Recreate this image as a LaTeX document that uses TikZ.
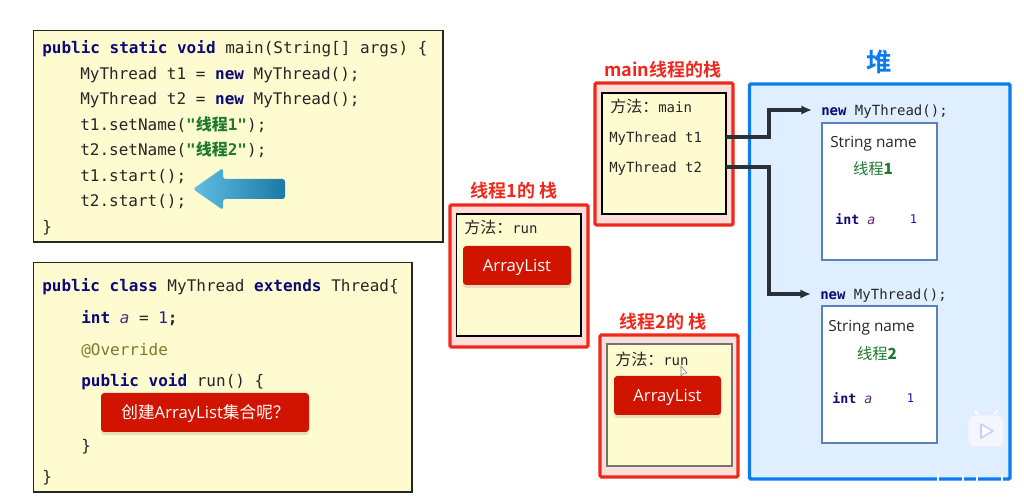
\documentclass[tikz,border=0pt]{standalone}
\usepackage{fontspec}
\setmainfont{Open Sans}
\setmonofont{DejaVu Sans Mono}
\newfontfamily\cjk{Noto Sans CJK SC}
\newfontfamily\cjkb{Noto Sans CJK SC Bold}
\definecolor{paper}{HTML}{FFFBD0}
\definecolor{kwcol}{HTML}{0A0A78}
\definecolor{strcol}{HTML}{1E7A2E}
\definecolor{varcol}{HTML}{5A2A78}
\definecolor{numcol}{HTML}{2A10B0}
\definecolor{annocol}{HTML}{7A7A28}
\definecolor{redline}{HTML}{F0281C}
\definecolor{redfill}{HTML}{FDDFDA}
\definecolor{btn}{HTML}{D01400}
\definecolor{btnshadow}{HTML}{E4DFB8}
\definecolor{bluehead}{HTML}{0A7CF0}
\definecolor{heapfill}{HTML}{E0EFFF}
\definecolor{objline}{HTML}{5B80BC}
\definecolor{conn}{HTML}{2A3038}
\definecolor{arrowL}{HTML}{62BEE2}
\definecolor{arrowR}{HTML}{1A78A6}
\newcommand{\kw}[1]{\textcolor{kwcol}{\bfseries #1}}
\newcommand{\cs}[1]{\textcolor{strcol}{\bfseries "{\cjk 线程}#1"}}
\newcommand{\fa}{{\cjk\fontsize{12}{14}\selectfont 方法：}}
\newcommand{\bx}[6]{\node[#2,anchor=north west,inner sep=0pt,outer sep=0pt,minimum width={(#5-#3)*0.75pt},minimum height={(#6-#4)*0.75pt}] (#1) at (#3,#4) {};}
\tikzset{
  x=0.75pt,y=-0.75pt,
  codebox/.style={draw=black!85,line width=0.9pt,fill=paper},
  stackouter/.style={draw=redline,line width=2.4pt,fill=redfill,rounded corners=1pt},
  stackinner/.style={draw=black,line width=0.9pt,fill=paper},
  heapbox/.style={draw=bluehead,line width=2.6pt,fill=heapfill,rounded corners=1pt},
  objbox/.style={draw=objline,line width=1.4pt,fill=white},
  codetext/.style={anchor=base west,inner sep=0pt,font=\ttfamily\fontsize{12}{14}\selectfont,text=black!85},
  smallcode/.style={anchor=base west,inner sep=0pt,font=\ttfamily\fontsize{10.5}{12}\selectfont,text=black!85},
  sanstext/.style={anchor=base west,inner sep=0pt,font=\fontsize{11.5}{14}\selectfont,text=black!85},
  greentext/.style={inner sep=0pt,text=strcol,font=\cjk\fontsize{11.5}{14}\selectfont},
  stacktitle/.style={inner sep=0pt,text=redline,font=\cjkb\fontsize{13.5}{16}\selectfont},
  btnbox/.style={fill=btn,rounded corners=2.5pt,text=white},
  btnshade/.style={fill=btnshadow,rounded corners=2.5pt},
  btntext/.style={inner sep=0pt,text=white,font=\fontsize{12.5}{14}\selectfont},
  link/.style={draw=conn,line width=2.3pt,-{Latex[length=8pt,width=7pt]}},
}
\usetikzlibrary{arrows.meta}
\begin{document}
\begin{tikzpicture}
\useasboundingbox (0,0) rectangle (1024,498);
\fill[white] (0,0) rectangle (1024,498);

% code box 1
\bx{codeA}{codebox}{33.5}{30.5}{443}{242}
\node[codetext] (a1) at (42,54) {\kw{public static void} main(String[] args) \{};
\node[codetext] (a2) at (80,80) {MyThread t1 = \kw{new} MyThread();};
\node[codetext] (a3) at (80,105) {MyThread t2 = \kw{new} MyThread();};
\node[codetext] (a4) at (80,131) {t1.setName(\cs{1});};
\node[codetext] (a5) at (80,156) {t2.setName(\cs{2});};
\node[codetext] (a6) at (80,182) {t1.start();};
\node[codetext] (a7) at (80,207) {t2.start();};
\node[codetext] (a8) at (42,233) {\}};
\shade[left color=arrowL,right color=arrowR,rounded corners=2pt]
  (193,189) -- (223,168) -- (223,179) -- (285,179) -- (285,199) -- (223,199) -- (223,210) -- cycle;

% code box 2
\bx{codeB}{codebox}{33.5}{262.5}{412}{492}
\node[codetext] (b1) at (42,292) {\kw{public class} MyThread \kw{extends} Thread\{};
\node[codetext] (b2) at (81,324) {\kw{int} \textcolor{varcol}{\itshape a} = \textcolor{numcol}{1}\textbf{;}};
\node[codetext,text=annocol] (b3) at (81,356) {@Override};
\node[codetext] (b4) at (81,387) {\kw{public void} run() \{};
\node[codetext] (b5) at (81,451) {\}};
\node[codetext] (b6) at (42,483) {\}};
\bx{askShade}{btnshade}{101}{396}{309}{435}
\bx{ask}{btnbox}{101}{393}{309}{432}
\node[btntext] (askT) at (205.5,413) {{\cjk 创建}ArrayList{\cjk 集合呢？}};

% thread 1 stack
\node[stacktitle] (s1T) at (514,191) {线程1的 栈};
\bx{s1O}{stackouter}{450}{205}{588}{347}
\bx{s1I}{stackinner}{456.5}{214}{581}{336}
\node[smallcode] (s1M) at (464,234) {\fa run};
\bx{s1Bs}{btnshade}{463}{249}{571}{288}
\bx{s1B}{btnbox}{463}{246}{571}{285}
\node[btntext] (s1BT) at (517,267) {ArrayList};

% main stack
\node[stacktitle] (s0T) at (663,70) {main线程的栈};
\bx{s0O}{stackouter}{595}{83}{733}{225}
\bx{s0I}{stackinner}{602}{93}{726}{214}
\node[smallcode] (s0M) at (610,113) {\fa main};
\node[smallcode] (t1) at (609,142.5) {MyThread t1};
\node[smallcode] (t2) at (609,172.5) {MyThread t2};

% thread 2 stack
\node[stacktitle] (s2T) at (663,322) {线程2的 栈};
\bx{s2O}{stackouter}{600}{335}{738}{477}
\bx{s2I}{stackinner,draw=black!55}{607}{344}{732}{466}
\node[smallcode] (s2M) at (615,366) {\fa run};
\bx{s2Bs}{btnshade}{614}{379}{721}{418}
\bx{s2B}{btnbox}{614}{376}{721}{415}
\node[btntext] (s2BT) at (667.5,397) {ArrayList};
\draw[black!50,fill=white,line width=0.4pt] (681,366) -- (681,376) -- (683.5,373.5) -- (687,373) -- cycle;

% heap
\node[inner sep=0pt,text=bluehead,font=\cjkb\fontsize{19}{22}\selectfont] (hT) at (879,62) {堆};
\bx{heap}{heapbox}{749.5}{84}{1010}{479}

\node[smallcode] (n1) at (821,115.5) {\kw{new} MyThread();};
\bx{o1}{objbox}{822}{123}{937}{260}
\node[sanstext] (o1S) at (830,148) {String name};
\node[greentext] (o1V) at (873,169) {线程\textbf{1}};
\node[smallcode,font=\ttfamily\fontsize{10}{12}\selectfont] (o1I) at (835,225) {\kw{int} \textcolor{varcol}{\itshape a}};
\node[smallcode,font=\ttfamily\fontsize{9}{10}\selectfont,text=numcol] (o1N) at (909.5,224) {1};

\node[smallcode] (n2) at (820,299.5) {\kw{new} MyThread();};
\bx{o2}{objbox}{822}{306}{937}{443}
\node[sanstext] (o2S) at (828,332) {String name};
\node[greentext] (o2V) at (877,354) {线程\textbf{2}};
\node[smallcode,font=\ttfamily\fontsize{10}{12}\selectfont] (o2I) at (832,404) {\kw{int} \textcolor{varcol}{\itshape a}};
\node[smallcode,font=\ttfamily\fontsize{9}{10}\selectfont,text=numcol] (o2N) at (906.5,403) {1};

% connectors
\coordinate (t1out) at (s0I.east |- 0,137);
\coordinate (t2out) at (s0I.east |- 0,167);
\coordinate (n1in) at (812,110);
\coordinate (n2in) at (811,294);
\draw[link] (t1out) -| (769,110) -- (n1in);
\draw[link] (t2out) -| (769,294) -- (n2in);

% player badge and the marks of the overlay on the heap's lower edge
\draw[white,line width=1.4pt,line cap=round] (978,415) -- (975,411) (994,415) -- (997,411);
\fill[white!96!blue,draw=white!90!blue,line width=0.4pt,rounded corners=5pt] (968,415) rectangle (1004,447);
\draw[blue!20!white,line width=1.2pt,line join=round,fill=white] (981,424) -- (993,431) -- (981,438) -- cycle;
\draw[white,line width=2pt] (938,475) -- (938,483) (963,475) -- (963,483) (977,475) -- (977,483) (1002,475) -- (1002,483);
\end{tikzpicture}
\end{document}
